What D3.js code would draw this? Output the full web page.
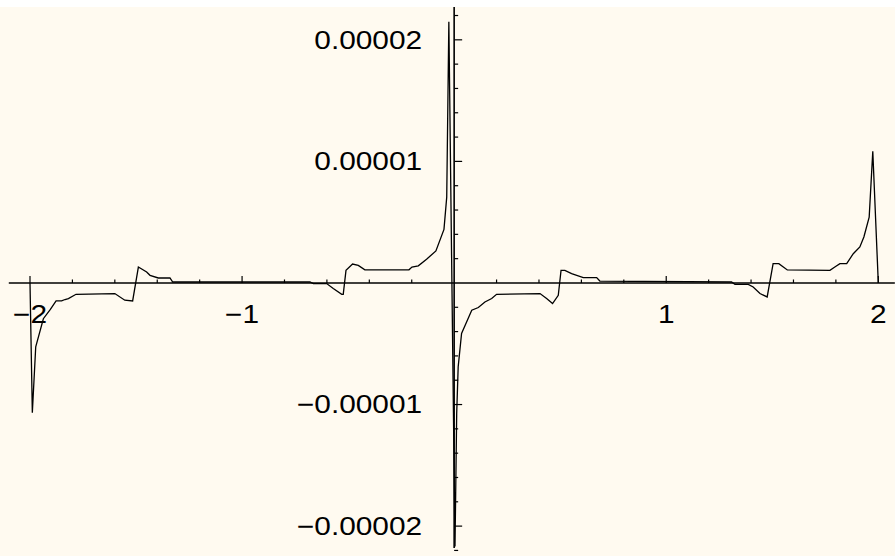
<!DOCTYPE html>
<html>
<head>
<meta charset="utf-8">
<script src="https://cdn.jsdelivr.net/npm/d3@7"></script>
<style>
  html, body { margin: 0; padding: 0; background: #ffffff; }
  svg { display: block; }
</style>
</head>
<body>
<svg id="chart" width="895" height="556"></svg>
<script>
// ---- data ----
const xValues = [
  -2.000, -1.989, -1.973, -1.937, -1.904, -1.877, -1.851, -1.835, -1.819, -1.783,
  -1.600, -1.553, -1.516, -1.489, -1.450, -1.434, -1.395, -1.340, -1.327, -0.680,
  -0.664, -0.601, -0.570, -0.530, -0.523, -0.510, -0.479, -0.452, -0.421, -0.213,
  -0.199, -0.169, -0.130, -0.086, -0.048, -0.035, -0.025, 0.004, 0.012, 0.019,
  0.035, 0.083, 0.114, 0.145, 0.177, 0.200, 0.405, 0.436, 0.464, 0.491,
  0.504, 0.522, 0.554, 0.578, 0.609, 0.672, 0.687, 1.308, 1.324, 1.387,
  1.410, 1.442, 1.476, 1.504, 1.531, 1.571, 1.772, 1.795, 1.819, 1.851,
  1.882, 1.913, 1.932, 1.957, 1.974, 2.000
];
const yValues = [
  0, -1.067e-5, -0.525e-5, -0.294e-5, -0.218e-5, -0.148e-5, -0.148e-5, -0.136e-5, -0.128e-5, -0.093e-5,
  -0.087e-5, -0.142e-5, -0.148e-5, 0.131e-5, 0.090e-5, 0.063e-5, 0.041e-5, 0.041e-5, 0.008e-5, 0.008e-5,
  -0.005e-5, -0.005e-5, -0.046e-5, -0.093e-5, -0.093e-5, 0.104e-5, 0.156e-5, 0.145e-5, 0.108e-5, 0.108e-5,
  0.131e-5, 0.141e-5, 0.195e-5, 0.264e-5, 0.441e-5, 0.706e-5, 2.149e-5, -2.167e-5, -1.072e-5, -0.690e-5,
  -0.415e-5, -0.224e-5, -0.202e-5, -0.156e-5, -0.128e-5, -0.093e-5, -0.087e-5, -0.128e-5, -0.169e-5, -0.101e-5,
  0.104e-5, 0.104e-5, 0.077e-5, 0.063e-5, 0.044e-5, 0.044e-5, 0.016e-5, 0.008e-5, -0.011e-5, -0.011e-5,
  -0.033e-5, -0.087e-5, -0.115e-5, 0.159e-5, 0.159e-5, 0.107e-5, 0.104e-5, 0.131e-5, 0.159e-5, 0.159e-5,
  0.241e-5, 0.296e-5, 0.378e-5, 0.542e-5, 1.084e-5, 0
];
const xMajorTicks = [-2, -1, 1, 2];
const xTickLabels = ["\u22122", "\u22121", "1", "2"];
const xMinorTicks = [-1.8, -1.6, -1.4, -1.2, -0.8, -0.6, -0.4, -0.2, 0.2, 0.4, 0.6, 0.8, 1.2, 1.4, 1.6, 1.8];
const yMajorTicks = [2e-5, 1e-5, -1e-5, -2e-5];
const yTickLabels = ["0.00002", "0.00001", "\u22120.00001", "\u22120.00002"];
const yMinorTicks = [2.2e-5, 1.8e-5, 1.6e-5, 1.4e-5, 1.2e-5, 0.8e-5, 0.6e-5, 0.4e-5, 0.2e-5,
                     -0.2e-5, -0.4e-5, -0.6e-5, -0.8e-5, -1.2e-5, -1.4e-5, -1.6e-5, -1.8e-5, -2.2e-5];
const xPlotRange = [-2.1, 2.078];
const yPlotRange = [-2.18e-5, 2.27e-5];

// ---- layout ----
const W = 895, H = 556;
const svg = d3.select("#chart");
const x = d3.scaleLinear().domain([-2, 2]).range([30, 878.3]);
const y = d3.scaleLinear().domain(yPlotRange).range([548, 7]);

svg.append("rect").attr("x", 0).attr("y", y(yPlotRange[1]))
  .attr("width", W).attr("height", H - y(yPlotRange[1]))
  .attr("fill", "#fffaf0");

const axisColor = "#000";
svg.append("line")
  .attr("x1", x(xPlotRange[0])).attr("x2", x(xPlotRange[1]))
  .attr("y1", y(0)).attr("y2", y(0))
  .attr("stroke", axisColor).attr("stroke-width", 1.6);
svg.append("line")
  .attr("x1", x(0)).attr("x2", x(0))
  .attr("y1", y(yPlotRange[1])).attr("y2", y(yPlotRange[0]))
  .attr("stroke", axisColor).attr("stroke-width", 1.6);

svg.selectAll(".xmin").data(xMinorTicks).enter().append("line")
  .attr("x1", d => x(d)).attr("x2", d => x(d))
  .attr("y1", y(0)).attr("y2", y(0) - 3.5)
  .attr("stroke", axisColor).attr("stroke-width", 1.2);
svg.selectAll(".xmaj").data(xMajorTicks).enter().append("line")
  .attr("x1", d => x(d)).attr("x2", d => x(d))
  .attr("y1", y(0)).attr("y2", y(0) - 7)
  .attr("stroke", axisColor).attr("stroke-width", 1.2);
svg.selectAll(".ymin").data(yMinorTicks).enter().append("line")
  .attr("x1", x(0)).attr("x2", x(0) + 4)
  .attr("y1", d => y(d)).attr("y2", d => y(d))
  .attr("stroke", axisColor).attr("stroke-width", 1.2);
svg.selectAll(".ymaj").data(yMajorTicks).enter().append("line")
  .attr("x1", x(0)).attr("x2", x(0) + 8)
  .attr("y1", d => y(d)).attr("y2", d => y(d))
  .attr("stroke", axisColor).attr("stroke-width", 1.2);

const pts = xValues.map((v, i) => [v, yValues[i]]);
svg.append("path")
  .datum(pts)
  .attr("d", d3.line().x(d => x(d[0])).y(d => y(d[1])))
  .attr("fill", "none").attr("stroke", "#000")
  .attr("stroke-width", 1.3).attr("stroke-linejoin", "miter");

const font = "'Liberation Sans', Arial, sans-serif";
const fs = 25.5, sx = 1.17;
xMajorTicks.forEach((t, i) => {
  const g = svg.append("g").attr("transform", `translate(${x(t)},${y(0) + 31}) scale(${sx},1)`);
  g.append("text").text(xTickLabels[i])
    .attr("text-anchor", "middle").attr("dominant-baseline", "central")
    .attr("font-family", font).attr("font-size", fs).attr("fill", "#000");
});
yMajorTicks.forEach((t, i) => {
  const g = svg.append("g").attr("transform", `translate(${x(0) - 32},${y(t)}) scale(${sx},1)`);
  g.append("text").text(yTickLabels[i])
    .attr("text-anchor", "end").attr("dominant-baseline", "central")
    .attr("font-family", font).attr("font-size", fs).attr("fill", "#000");
});
</script>
</body>
</html>
